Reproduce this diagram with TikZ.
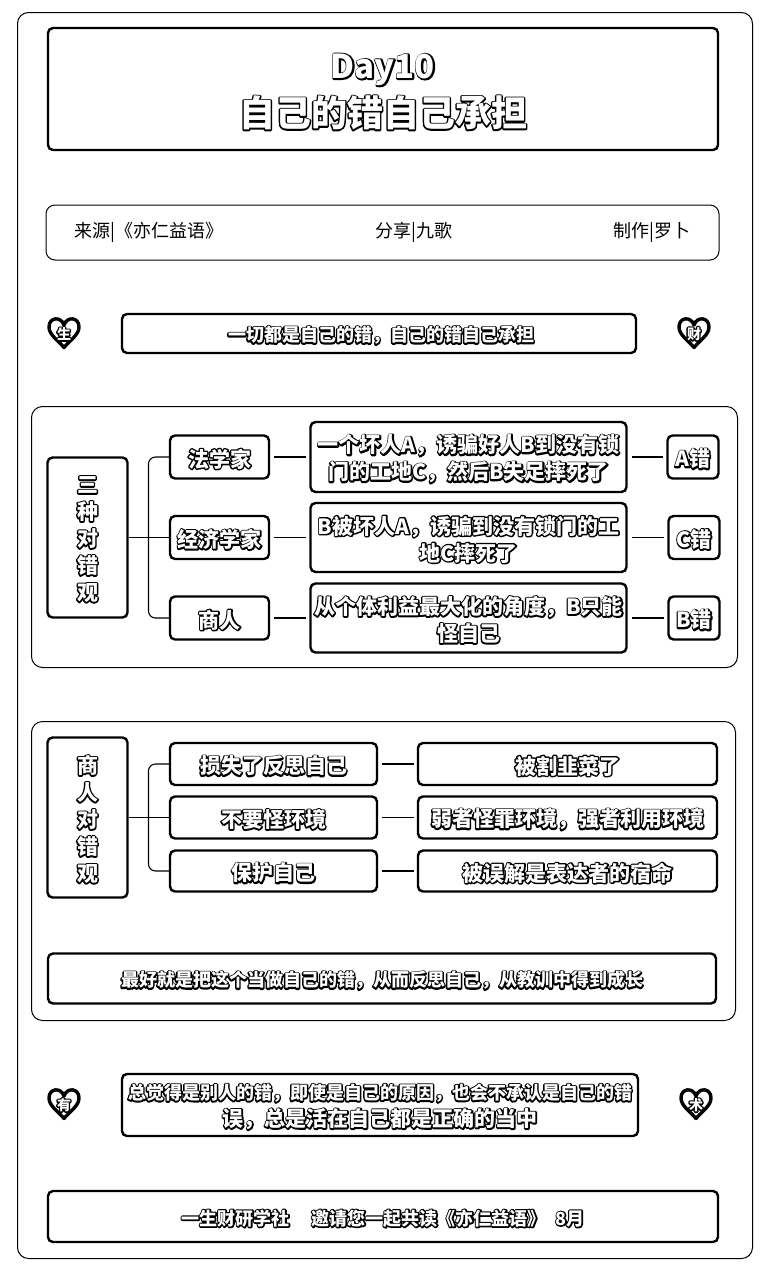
\documentclass[tikz,border=0pt]{standalone}
\usepackage{fontspec}
\setmainfont{Noto Sans CJK SC}
\tikzset{
  panel/.style={draw,line width=1pt,rounded corners=11pt,anchor=north west,inner sep=0pt},
  card/.style={draw,line width=2.4pt,rounded corners=5pt,inner sep=0pt,align=center,font=\fontsize{21}{27}\selectfont},
  plain/.style={inner sep=0pt,font=\fontsize{18}{22}\selectfont},
  branch/.style={line width=1.1pt,rounded corners=7pt},
  link/.style={line width=1.2pt,shorten <=4pt,shorten >=3pt},
  heart/.style={draw,line width=3.4pt,fill=white,line join=round}
}
% white letters over a black rim
\newcommand{\halo}[1]{\raisebox{-2pt}[\height][\depth]{\bfseries\rlap{\special{pdf:code 0 G 1 j 2 Tr 2.8 w}#1\special{pdf:code 0 Tr 0 j}}\textcolor{white}{#1}}}
\newcommand{\cardat}[6]{\node[card,minimum width=#4 pt,minimum height=#5 pt] (#1) at (#2,#3) {#6};}
\newcommand{\heartat}[3]{
  \draw[heart] (#1,#2+14.5) .. controls (#1-6,#2+7) and (#1-15,#2+2) .. (#1-15,#2-6)
    .. controls (#1-15,#2-16) and (#1-3,#2-17) .. (#1,#2-8)
    .. controls (#1+3,#2-17) and (#1+15,#2-16) .. (#1+15,#2-6)
    .. controls (#1+15,#2+2) and (#1+6,#2+7) .. (#1,#2+14.5) -- cycle;
  \node[font=\fontsize{14}{15}\selectfont] at (#1,#2-1) {\halo{#3}};
}
\begin{document}
\begin{tikzpicture}[x=1pt,y=-1pt]
\useasboundingbox (0,0) rectangle (776,1280);
\node[panel,minimum width=735pt,minimum height=1246pt] (page) at (17,12) {};

% head
\cardat{title}{383}{89}{670}{122}{}
\node[font=\fontsize{33}{36}\selectfont] (dayno) at (383,68) {\halo{Day10}};
\node[font=\fontsize{36}{40}\selectfont] (titletext) at (383,111) {\halo{自己的错自己承担}};
\node[draw,line width=1pt,rounded corners=9pt,minimum width=673pt,minimum height=55pt] (source) at (382.5,232.5) {};
\node[plain,anchor=west] (book) at (74,232) {来源|《亦仁益语》};
\node[plain] (share) at (414,232) {分享|九歌};
\node[plain,anchor=east] (maker) at (691,232) {制作|罗卜};

% first row
\cardat{gist}{379}{333.5}{514}{39}{}
\node[font=\fontsize{18}{22}\selectfont] (gisttext) at (381,333.5) {\halo{一切都是自己的错，自己的错自己承担}};
\heartat{64}{333}{生}
\heartat{694}{333}{财}

% panel one
\node[panel,minimum width=706pt,minimum height=261pt] (viewsback) at (31,406) {};
\cardat{views}{87.5}{537.5}{80}{160}{\halo{三}\\\halo{种}\\\halo{对}\\\halo{错}\\\halo{观}}
\cardat{law}{219.5}{457}{99}{43}{\halo{法学家}}
\cardat{econ}{219.5}{537.5}{99}{43}{\halo{经济学家}}
\cardat{biz}{219.5}{618}{99}{43}{\halo{商人}}
\cardat{lawtxt}{468.5}{457}{316}{70}{\halo{一个坏人A，诱骗好人B到没有锁}\\\halo{门的工地C，然后B失足摔死了}}
\cardat{econtxt}{468.5}{537.5}{316}{69}{\halo{B被坏人A，诱骗到没有锁门的工}\\\halo{地C摔死了}}
\cardat{biztxt}{468.5}{618}{316}{69}{\halo{从个体利益最大化的角度，B只能}\\\halo{怪自己}}
\cardat{lawres}{693}{457}{51}{43}{\halo{A错}}
\cardat{econres}{694}{537.5}{51}{43}{\halo{C错}}
\cardat{bizres}{694}{618}{51}{43}{\halo{B错}}
\coordinate (trunka) at (148.5,537.5);
\draw[branch] (law.west) -| (trunka) |- (biz.west);
\draw[branch] (views.east) -- (econ.west);
\draw[link] (law) -- (lawtxt);
\draw[link] (econ) -- (econtxt);
\draw[link] (biz) -- (biztxt);
\draw[link] (lawtxt) -- (lawres);
\draw[link] (econtxt) -- (econres);
\draw[link] (biztxt) -- (bizres);

% panel two
\node[panel,minimum width=704pt,minimum height=299pt] (bizback) at (31,721) {};
\cardat{bizview}{87.5}{817.5}{80}{160}{\halo{商}\\\halo{人}\\\halo{对}\\\halo{错}\\\halo{观}}
\cardat{loss}{273.5}{764}{207}{42}{\halo{损失了反思自己}}
\cardat{noblame}{273.5}{817.5}{207}{42}{\halo{不要怪环境}}
\cardat{guard}{273.5}{871}{207}{41}{\halo{保护自己}}
\cardat{cut}{567.5}{764}{299}{42}{\halo{被割韭菜了}}
\cardat{weak}{567.5}{817.5}{299}{42}{\halo{弱者怪罪环境，强者利用环境}}
\cardat{fate}{567.5}{871}{299}{41}{\halo{被误解是表达者的宿命}}
\cardat{best}{382}{978.5}{668}{50}{\fontsize{18}{22}\selectfont\halo{最好就是把这个当做自己的错，从而反思自己，从教训中得到成长}}
\coordinate (trunkb) at (148.5,817.5);
\draw[branch] (loss.west) -| (trunkb) |- (guard.west);
\draw[branch] (bizview.east) -- (noblame.west);
\draw[link] (loss) -- (cut);
\draw[link] (noblame) -- (weak);
\draw[link] (guard) -- (fate);

% foot
\cardat{habit}{380}{1105}{516}{62}{\fontsize{18}{25}\selectfont\halo{总觉得是别人的错，即使是自己的原因，也会不承认是自己的错}\\\halo{误，总是活在自己都是正确的当中}}
\heartat{64}{1104}{有}
\heartat{696}{1104}{术}
\cardat{foot}{383}{1216.5}{670}{51}{\fontsize{18}{22}\selectfont\halo{一生财研学社\hspace{22pt}邀请您一起共读《亦仁益语》\hspace{10pt}8月}}
\end{tikzpicture}
\end{document}
